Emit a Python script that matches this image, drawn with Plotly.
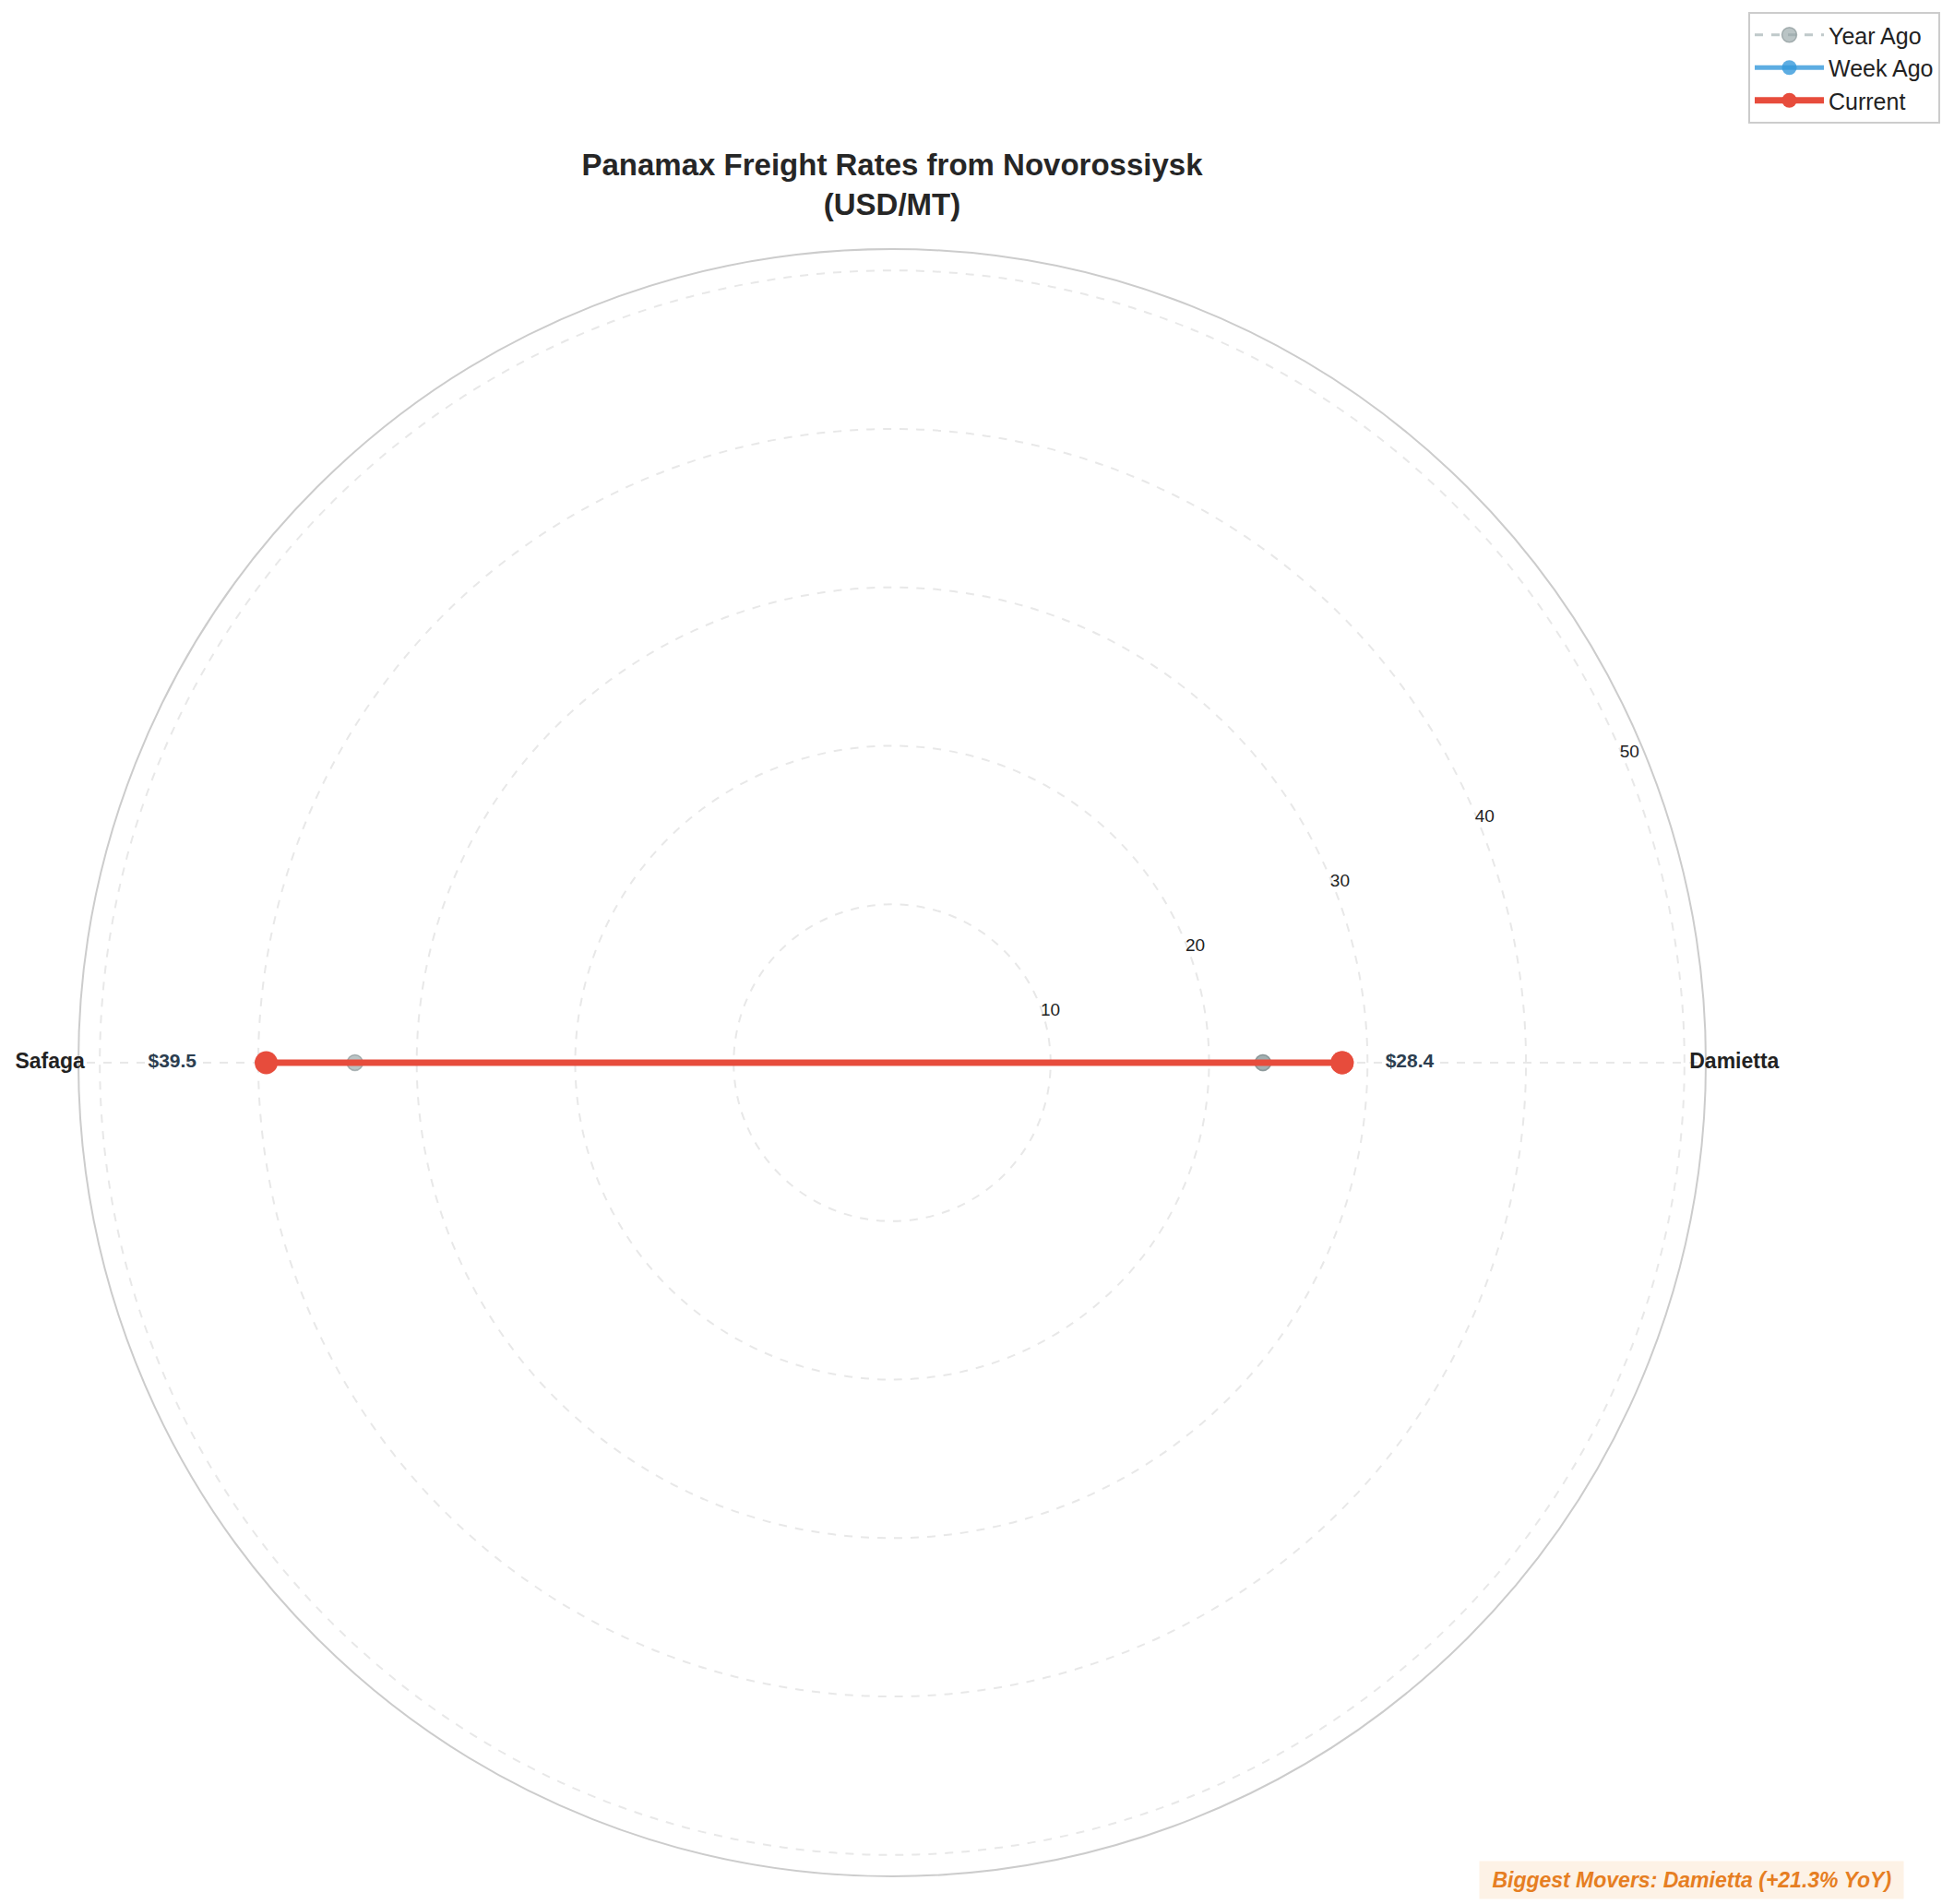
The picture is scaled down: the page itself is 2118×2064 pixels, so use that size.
import plotly.graph_objects as go

# ── Data ───────────────────────────────────────────────────────────────────
PORTS     = ["Damietta", "Safaga"]
YEAR_AGO  = [23.4, 33.9]
WEEK_AGO  = [28.4, 39.5]
CURRENT   = [28.4, 39.5]
R_TICKS   = [10, 20, 30, 40, 50]
NOTE      = "Biggest Movers: Damietta (+21.3% YoY)"

FONT  = "Liberation Sans, Arial, Helvetica, sans-serif"
R_MAX = max(CURRENT) * 1.3

# ── Geometry (paper px) ────────────────────────────────────────────────────
W, H     = 2118, 2064
CX, CY   = 959, 920     # polar centre, y measured from the bottom
RAD      = 882          # polar radius
LBL_K    = 1.036        # port names sit just past the rim


def closed(vals):
    # repeat the first point so the polygon closes
    return list(vals) + [vals[0]]


fig = go.Figure()

fig.add_trace(go.Scatterpolar(
    r=closed(YEAR_AGO), theta=closed(PORTS),
    mode="lines+markers", name="Year Ago",
    line=dict(color="rgba(149,165,166,0.6)", width=3, dash="dash"),
    marker=dict(size=17, color="rgba(149,165,166,0.65)",
                line=dict(color="rgba(127,140,141,0.6)", width=1.5)),
))

fig.add_trace(go.Scatterpolar(
    r=closed(WEEK_AGO), theta=closed(PORTS),
    mode="lines+markers", name="Week Ago",
    line=dict(color="rgba(52,152,219,0.8)", width=5),
    marker=dict(size=20, color="rgba(52,152,219,0.8)"),
))

fig.add_trace(go.Scatterpolar(
    r=closed(CURRENT), theta=closed(PORTS),
    mode="lines+markers", name="Current",
    line=dict(color="#e74c3c", width=7),
    marker=dict(size=25, color="#e74c3c"),
))

# value labels just outside the current points
fig.add_trace(go.Scatterpolar(
    r=[v * 1.15 for v in CURRENT], theta=PORTS,
    mode="text", text=[f"${v:.1f}" for v in CURRENT],
    textfont=dict(family=FONT, size=21, color="#2c3e50", weight="bold"),
    showlegend=False, hoverinfo="skip",
))

# port names on the rim: a second, invisible half-polar a bit larger than
# the main one, so the names can overlap the outer circle like matplotlib
fig.add_trace(go.Scatterpolar(
    r=[R_MAX * LBL_K * 0.999] * len(PORTS), theta=PORTS,
    mode="text", text=PORTS, cliponaxis=False, subplot="polar2",
    textfont=dict(family=FONT, size=23, color="#222222", weight="bold"),
    showlegend=False, hoverinfo="skip",
))

R2 = RAD * LBL_K
hidden = dict(showgrid=False, showline=False, showticklabels=False, ticks="")

fig.update_layout(
    width=W, height=H,
    margin=dict(l=0, r=0, t=0, b=0),
    paper_bgcolor="white",
    font=dict(family=FONT, color="#222222"),
    title=dict(
        text="Panamax Freight Rates from Novorossiysk<br>(USD/MT)",
        x=CX / W, xanchor="center",
        y=1 - 182 / H, yanchor="top",
        font=dict(size=33, color="#262626", weight="bold"),
    ),
    polar=dict(
        domain=dict(x=[(CX - RAD) / W, (CX + RAD) / W],
                    y=[(CY - RAD) / H, (CY + RAD) / H]),
        bgcolor="white",
        radialaxis=dict(
            range=[0, R_MAX],
            tickvals=R_TICKS,
            angle=24, tickangle=24, side="clockwise",
            showline=False, ticks="",
            gridcolor="#e8e8e8", griddash="dash", gridwidth=1.5,
            tickfont=dict(size=19, color="#222222"),
        ),
        angularaxis=dict(
            direction="counterclockwise", rotation=0,
            showline=True, linecolor="#cccccc", linewidth=2,
            gridcolor="#e8e8e8", griddash="dash", gridwidth=1.5,
            ticks="", showticklabels=False,
        ),
    ),
    polar2=dict(
        domain=dict(x=[(CX - R2) / W, (CX + R2) / W],
                    y=[CY / H, min((CY + R2) / H, 1)]),
        sector=[0, 180],
        bgcolor="rgba(0,0,0,0)",
        radialaxis=dict(range=[0, R_MAX * LBL_K], **hidden),
        angularaxis=dict(direction="counterclockwise", rotation=0, **hidden),
    ),
    legend=dict(
        x=2095 / W, y=1 - 5 / H, xanchor="right", yanchor="top",
        bordercolor="#cccccc", borderwidth=2, bgcolor="white",
        font=dict(size=25, color="#222222"),
        itemwidth=75,
    ),
    annotations=[dict(
        text=f"&nbsp;<i>{NOTE}</i>&nbsp;",
        xref="paper", yref="paper",
        x=2056 / W, y=13 / H, xanchor="right", yanchor="bottom",
        showarrow=False,
        font=dict(size=23, color="#e67e22", weight="bold"),
        bgcolor="#fdf2e6", borderpad=7,
    )],
)

fig.write_html("out.html")
